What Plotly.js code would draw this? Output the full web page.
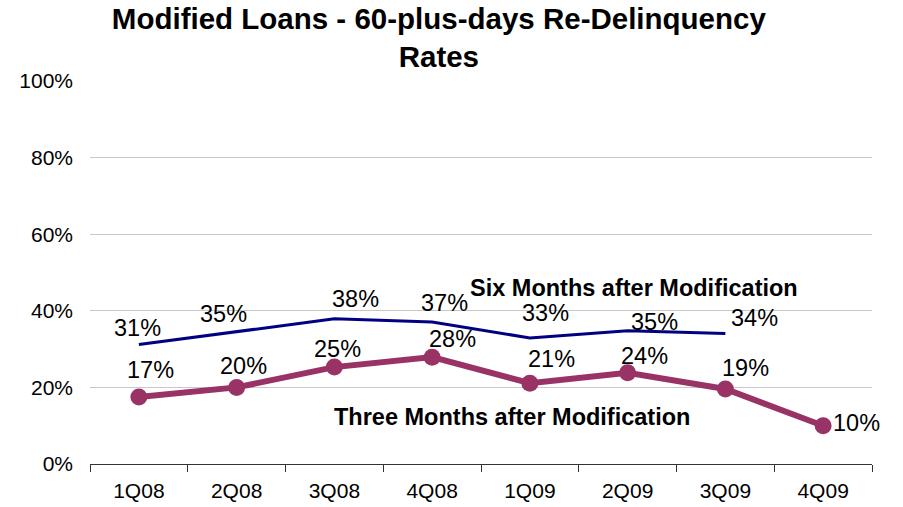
<!DOCTYPE html>
<html>
<head>
<meta charset="utf-8">
<script src="https://cdn.plot.ly/plotly-3.0.1.min.js"></script>
<style>html,body{margin:0;padding:0;background:#fff;}#chart{width:903px;height:507px;}</style>
</head>
<body>
<div id="chart"></div>
<script>
// Data
const quarters = ["1Q08","2Q08","3Q08","4Q08","1Q09","2Q09","3Q09","4Q09"];
const sixMonthQuarters = ["1Q08","2Q08","3Q08","4Q08","1Q09","2Q09","3Q09"];
const sixMonthRates = [31.2, 34.6, 37.9, 37.1, 32.9, 34.8, 34.1];
const sixMonthLabels = ["31%","35%","38%","37%","33%","35%","34%"];
const threeMonthRates = [17.5, 20.0, 25.3, 27.9, 21.1, 23.8, 19.6, 10.0];
const threeMonthLabels = ["17%","20%","25%","28%","21%","24%","19%","10%"];
const yTickVals = [0, 20, 40, 60, 80, 100];
const yTickText = ["0%","20%","40%","60%","80%","100%"];
const sixName = "Six Months after Modification";
const threeName = "Three Months after Modification";

// label offsets (pixels) relative to each point — styling only
const sixOffsets = [[-1,17],[-13,17],[21,20],[12,19],[16,25],[27,9],[29,15]];
const threeOffsets = [[12,27],[7,21],[3,18],[20,18],[22,24],[17,17],[20,21],[33,3]];

const FONT = "Arial, 'Liberation Sans', sans-serif";

const traces = [
  {
    x: sixMonthQuarters, y: sixMonthRates, type: "scatter", mode: "lines",
    line: {color: "#000080", width: 3}, name: sixName, hoverinfo: "skip"
  },
  {
    x: quarters, y: threeMonthRates, type: "scatter", mode: "lines+markers",
    line: {color: "#993366", width: 6}, marker: {color: "#993366", size: 17},
    name: threeName, hoverinfo: "skip"
  }
];

const annotations = [];
sixMonthQuarters.forEach((q, i) => {
  annotations.push({x: q, y: sixMonthRates[i], xref: "x", yref: "y", text: sixMonthLabels[i],
    showarrow: false, xshift: sixOffsets[i][0], yshift: sixOffsets[i][1],
    font: {family: FONT, size: 23.5, color: "#000"}});
});
quarters.forEach((q, i) => {
  annotations.push({x: q, y: threeMonthRates[i], xref: "x", yref: "y", text: threeMonthLabels[i],
    showarrow: false, xshift: threeOffsets[i][0], yshift: threeOffsets[i][1],
    font: {family: FONT, size: 23.5, color: "#000"}});
});
annotations.push({xref: "paper", yref: "paper", x: 0.6957, y: 0.460, text: "<b>" + sixName + "</b>",
  showarrow: false, xanchor: "center", yanchor: "middle", font: {family: FONT, size: 23.5, color: "#000"}});
annotations.push({xref: "paper", yref: "paper", x: 0.5396, y: 0.1235, text: "<b>" + threeName + "</b>",
  showarrow: false, xanchor: "center", yanchor: "middle", font: {family: FONT, size: 23.5, color: "#000"}});

const layout = {
  width: 903, height: 507,
  margin: {l: 90, r: 31, t: 81, b: 43, pad: 0},
  paper_bgcolor: "#fff", plot_bgcolor: "#fff",
  showlegend: false,
  title: {
    text: "<b>Modified Loans - 60-plus-days Re-Delinquency<br>Rates</b>",
    font: {family: FONT, size: 29.5, color: "#000"},
    xref: "container", x: 0.486, xanchor: "center",
    yref: "container", y: 0.943, yanchor: "top"
  },
  xaxis: {
    type: "category", categoryarray: quarters, categoryorder: "array",
    range: [-0.5, 7.5], showgrid: false, zeroline: false,
    showline: true, linecolor: "#333", linewidth: 1,
    ticks: "outside", tickson: "boundaries", ticklen: 7, tickcolor: "#333", tickwidth: 1,
    ticklabelstandoff: 8,
    tickfont: {family: FONT, size: 21, color: "#000"}, fixedrange: true
  },
  yaxis: {
    range: [0, 100], tickvals: yTickVals, ticktext: yTickText,
    showgrid: true, gridcolor: "#c8c8c8", gridwidth: 1,
    zeroline: false, showline: false, ticks: "", ticklabelstandoff: 16,
    tickfont: {family: FONT, size: 21, color: "#000"}, fixedrange: true
  },
  annotations: annotations
};

Plotly.newPlot("chart", traces, layout, {displayModeBar: false, staticPlot: true});
</script>
</body>
</html>
